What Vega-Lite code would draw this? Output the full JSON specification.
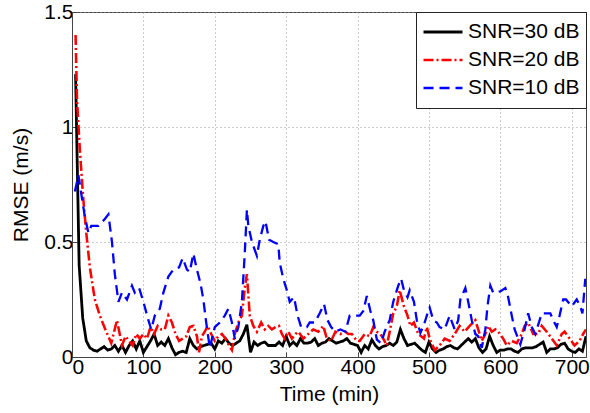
{
  "$schema": "https://vega.github.io/schema/vega-lite/v6.json",
  "autosize": {"type": "none"},
  "width": 514,
  "height": 345,
  "padding": {"left": 72, "top": 12, "right": 4, "bottom": 56},
  "background": "white",
  "config": {
    "font": "Liberation Sans",
    "view": {"stroke": "#444", "strokeWidth": 1},
    "axis": {
      "labelFont": "Liberation Sans", "labelFontSize": 21, "labelColor": "#000",
      "titleFont": "Liberation Sans", "titleFontSize": 21, "titleFontWeight": "normal", "titleColor": "#000",
      "domainColor": "#444", "tickColor": "#444", "tickSize": -5,
      "gridColor": "#999", "gridDash": [1, 3], "gridWidth": 1
    },
    "legend": {
      "labelFont": "Liberation Sans", "labelFontSize": 21, "labelColor": "#000"
    }
  },
  "data": {"values": [
    {"t":5,"v":1.23,"s":"SNR=30 dB"},{"t":10,"v":0.40,"s":"SNR=30 dB"},{"t":15,"v":0.17,"s":"SNR=30 dB"},{"t":20,"v":0.07,"s":"SNR=30 dB"},{"t":25,"v":0.04,"s":"SNR=30 dB"},{"t":30,"v":0.03,"s":"SNR=30 dB"},{"t":35,"v":0.025,"s":"SNR=30 dB"},{"t":40,"v":0.035,"s":"SNR=30 dB"},{"t":45,"v":0.045,"s":"SNR=30 dB"},{"t":50,"v":0.03,"s":"SNR=30 dB"},{"t":55,"v":0.035,"s":"SNR=30 dB"},{"t":60,"v":0.05,"s":"SNR=30 dB"},{"t":65,"v":0.025,"s":"SNR=30 dB"},{"t":70,"v":0.05,"s":"SNR=30 dB"},{"t":75,"v":0.02,"s":"SNR=30 dB"},{"t":80,"v":0.05,"s":"SNR=30 dB"},{"t":85,"v":0.07,"s":"SNR=30 dB"},{"t":90,"v":0.035,"s":"SNR=30 dB"},{"t":95,"v":0.07,"s":"SNR=30 dB"},{"t":100,"v":0.02,"s":"SNR=30 dB"},{"t":105,"v":0.045,"s":"SNR=30 dB"},{"t":110,"v":0.07,"s":"SNR=30 dB"},{"t":115,"v":0.1,"s":"SNR=30 dB"},{"t":120,"v":0.05,"s":"SNR=30 dB"},{"t":125,"v":0.065,"s":"SNR=30 dB"},{"t":130,"v":0.05,"s":"SNR=30 dB"},{"t":135,"v":0.08,"s":"SNR=30 dB"},{"t":140,"v":0.04,"s":"SNR=30 dB"},{"t":145,"v":0.01,"s":"SNR=30 dB"},{"t":150,"v":0.02,"s":"SNR=30 dB"},{"t":155,"v":0.025,"s":"SNR=30 dB"},{"t":160,"v":0.02,"s":"SNR=30 dB"},{"t":165,"v":0.08,"s":"SNR=30 dB"},{"t":170,"v":0.05,"s":"SNR=30 dB"},{"t":175,"v":0.035,"s":"SNR=30 dB"},{"t":180,"v":0.045,"s":"SNR=30 dB"},{"t":185,"v":0.05,"s":"SNR=30 dB"},{"t":190,"v":0.055,"s":"SNR=30 dB"},{"t":195,"v":0.06,"s":"SNR=30 dB"},{"t":200,"v":0.035,"s":"SNR=30 dB"},{"t":205,"v":0.07,"s":"SNR=30 dB"},{"t":210,"v":0.06,"s":"SNR=30 dB"},{"t":215,"v":0.08,"s":"SNR=30 dB"},{"t":220,"v":0.06,"s":"SNR=30 dB"},{"t":225,"v":0.05,"s":"SNR=30 dB"},{"t":230,"v":0.06,"s":"SNR=30 dB"},{"t":235,"v":0.07,"s":"SNR=30 dB"},{"t":240,"v":0.1,"s":"SNR=30 dB"},{"t":245,"v":0.14,"s":"SNR=30 dB"},{"t":250,"v":0.02,"s":"SNR=30 dB"},{"t":255,"v":0.065,"s":"SNR=30 dB"},{"t":260,"v":0.05,"s":"SNR=30 dB"},{"t":265,"v":0.06,"s":"SNR=30 dB"},{"t":270,"v":0.065,"s":"SNR=30 dB"},{"t":275,"v":0.05,"s":"SNR=30 dB"},{"t":280,"v":0.05,"s":"SNR=30 dB"},{"t":285,"v":0.05,"s":"SNR=30 dB"},{"t":290,"v":0.065,"s":"SNR=30 dB"},{"t":295,"v":0.05,"s":"SNR=30 dB"},{"t":300,"v":0.09,"s":"SNR=30 dB"},{"t":305,"v":0.05,"s":"SNR=30 dB"},{"t":310,"v":0.065,"s":"SNR=30 dB"},{"t":315,"v":0.05,"s":"SNR=30 dB"},{"t":320,"v":0.08,"s":"SNR=30 dB"},{"t":325,"v":0.06,"s":"SNR=30 dB"},{"t":330,"v":0.06,"s":"SNR=30 dB"},{"t":335,"v":0.065,"s":"SNR=30 dB"},{"t":340,"v":0.08,"s":"SNR=30 dB"},{"t":345,"v":0.05,"s":"SNR=30 dB"},{"t":350,"v":0.06,"s":"SNR=30 dB"},{"t":355,"v":0.065,"s":"SNR=30 dB"},{"t":360,"v":0.08,"s":"SNR=30 dB"},{"t":365,"v":0.07,"s":"SNR=30 dB"},{"t":370,"v":0.06,"s":"SNR=30 dB"},{"t":375,"v":0.065,"s":"SNR=30 dB"},{"t":380,"v":0.07,"s":"SNR=30 dB"},{"t":385,"v":0.08,"s":"SNR=30 dB"},{"t":390,"v":0.06,"s":"SNR=30 dB"},{"t":395,"v":0.055,"s":"SNR=30 dB"},{"t":400,"v":0.05,"s":"SNR=30 dB"},{"t":405,"v":0.02,"s":"SNR=30 dB"},{"t":410,"v":0.05,"s":"SNR=30 dB"},{"t":415,"v":0.035,"s":"SNR=30 dB"},{"t":420,"v":0.075,"s":"SNR=30 dB"},{"t":425,"v":0.05,"s":"SNR=30 dB"},{"t":430,"v":0.035,"s":"SNR=30 dB"},{"t":435,"v":0.045,"s":"SNR=30 dB"},{"t":440,"v":0.05,"s":"SNR=30 dB"},{"t":445,"v":0.06,"s":"SNR=30 dB"},{"t":450,"v":0.05,"s":"SNR=30 dB"},{"t":455,"v":0.065,"s":"SNR=30 dB"},{"t":460,"v":0.12,"s":"SNR=30 dB"},{"t":465,"v":0.08,"s":"SNR=30 dB"},{"t":470,"v":0.05,"s":"SNR=30 dB"},{"t":475,"v":0.055,"s":"SNR=30 dB"},{"t":480,"v":0.06,"s":"SNR=30 dB"},{"t":485,"v":0.045,"s":"SNR=30 dB"},{"t":490,"v":0.03,"s":"SNR=30 dB"},{"t":495,"v":0.02,"s":"SNR=30 dB"},{"t":500,"v":0.065,"s":"SNR=30 dB"},{"t":505,"v":0.035,"s":"SNR=30 dB"},{"t":510,"v":0.02,"s":"SNR=30 dB"},{"t":515,"v":0.03,"s":"SNR=30 dB"},{"t":520,"v":0.035,"s":"SNR=30 dB"},{"t":525,"v":0.045,"s":"SNR=30 dB"},{"t":530,"v":0.05,"s":"SNR=30 dB"},{"t":535,"v":0.04,"s":"SNR=30 dB"},{"t":540,"v":0.035,"s":"SNR=30 dB"},{"t":545,"v":0.05,"s":"SNR=30 dB"},{"t":550,"v":0.065,"s":"SNR=30 dB"},{"t":555,"v":0.08,"s":"SNR=30 dB"},{"t":560,"v":0.065,"s":"SNR=30 dB"},{"t":565,"v":0.08,"s":"SNR=30 dB"},{"t":570,"v":0.04,"s":"SNR=30 dB"},{"t":575,"v":0.02,"s":"SNR=30 dB"},{"t":580,"v":0.035,"s":"SNR=30 dB"},{"t":585,"v":0.09,"s":"SNR=30 dB"},{"t":590,"v":0.05,"s":"SNR=30 dB"},{"t":595,"v":0.02,"s":"SNR=30 dB"},{"t":600,"v":0.03,"s":"SNR=30 dB"},{"t":605,"v":0.03,"s":"SNR=30 dB"},{"t":610,"v":0.035,"s":"SNR=30 dB"},{"t":615,"v":0.035,"s":"SNR=30 dB"},{"t":620,"v":0.025,"s":"SNR=30 dB"},{"t":625,"v":0.02,"s":"SNR=30 dB"},{"t":630,"v":0.035,"s":"SNR=30 dB"},{"t":635,"v":0.04,"s":"SNR=30 dB"},{"t":640,"v":0.04,"s":"SNR=30 dB"},{"t":645,"v":0.04,"s":"SNR=30 dB"},{"t":650,"v":0.045,"s":"SNR=30 dB"},{"t":655,"v":0.055,"s":"SNR=30 dB"},{"t":660,"v":0.065,"s":"SNR=30 dB"},{"t":665,"v":0.02,"s":"SNR=30 dB"},{"t":670,"v":0.035,"s":"SNR=30 dB"},{"t":675,"v":0.035,"s":"SNR=30 dB"},{"t":680,"v":0.04,"s":"SNR=30 dB"},{"t":685,"v":0.055,"s":"SNR=30 dB"},{"t":690,"v":0.06,"s":"SNR=30 dB"},{"t":695,"v":0.035,"s":"SNR=30 dB"},{"t":700,"v":0.025,"s":"SNR=30 dB"},{"t":705,"v":0.02,"s":"SNR=30 dB"},{"t":710,"v":0.035,"s":"SNR=30 dB"},{"t":715,"v":0.025,"s":"SNR=30 dB"},{"t":720,"v":0.09,"s":"SNR=30 dB"},

    {"t":5,"v":1.40,"s":"SNR=20 dB"},{"t":7,"v":1.12,"s":"SNR=20 dB"},{"t":11,"v":0.90,"s":"SNR=20 dB"},{"t":16,"v":0.68,"s":"SNR=20 dB"},{"t":20,"v":0.54,"s":"SNR=20 dB"},{"t":25,"v":0.39,"s":"SNR=20 dB"},{"t":32,"v":0.25,"s":"SNR=20 dB"},{"t":39,"v":0.18,"s":"SNR=20 dB"},{"t":48,"v":0.11,"s":"SNR=20 dB"},{"t":55,"v":0.06,"s":"SNR=20 dB"},{"t":63,"v":0.16,"s":"SNR=20 dB"},{"t":70,"v":0.05,"s":"SNR=20 dB"},{"t":75,"v":0.09,"s":"SNR=20 dB"},{"t":80,"v":0.07,"s":"SNR=20 dB"},{"t":85,"v":0.05,"s":"SNR=20 dB"},{"t":90,"v":0.1,"s":"SNR=20 dB"},{"t":95,"v":0.08,"s":"SNR=20 dB"},{"t":100,"v":0.1,"s":"SNR=20 dB"},{"t":105,"v":0.08,"s":"SNR=20 dB"},{"t":110,"v":0.13,"s":"SNR=20 dB"},{"t":115,"v":0.1,"s":"SNR=20 dB"},{"t":120,"v":0.135,"s":"SNR=20 dB"},{"t":125,"v":0.12,"s":"SNR=20 dB"},{"t":130,"v":0.12,"s":"SNR=20 dB"},{"t":135,"v":0.18,"s":"SNR=20 dB"},{"t":140,"v":0.15,"s":"SNR=20 dB"},{"t":145,"v":0.1,"s":"SNR=20 dB"},{"t":150,"v":0.07,"s":"SNR=20 dB"},{"t":155,"v":0.08,"s":"SNR=20 dB"},{"t":160,"v":0.09,"s":"SNR=20 dB"},{"t":165,"v":0.13,"s":"SNR=20 dB"},{"t":170,"v":0.135,"s":"SNR=20 dB"},{"t":175,"v":0.09,"s":"SNR=20 dB"},{"t":178,"v":0.02,"s":"SNR=20 dB"},{"t":182,"v":0.09,"s":"SNR=20 dB"},{"t":186,"v":0.11,"s":"SNR=20 dB"},{"t":190,"v":0.135,"s":"SNR=20 dB"},{"t":195,"v":0.1,"s":"SNR=20 dB"},{"t":200,"v":0.07,"s":"SNR=20 dB"},{"t":205,"v":0.09,"s":"SNR=20 dB"},{"t":210,"v":0.1,"s":"SNR=20 dB"},{"t":215,"v":0.08,"s":"SNR=20 dB"},{"t":220,"v":0.05,"s":"SNR=20 dB"},{"t":224,"v":0.03,"s":"SNR=20 dB"},{"t":228,"v":0.1,"s":"SNR=20 dB"},{"t":233,"v":0.15,"s":"SNR=20 dB"},{"t":238,"v":0.18,"s":"SNR=20 dB"},{"t":242,"v":0.3,"s":"SNR=20 dB"},{"t":245,"v":0.36,"s":"SNR=20 dB"},{"t":249,"v":0.18,"s":"SNR=20 dB"},{"t":254,"v":0.135,"s":"SNR=20 dB"},{"t":259,"v":0.11,"s":"SNR=20 dB"},{"t":265,"v":0.15,"s":"SNR=20 dB"},{"t":270,"v":0.12,"s":"SNR=20 dB"},{"t":275,"v":0.135,"s":"SNR=20 dB"},{"t":280,"v":0.12,"s":"SNR=20 dB"},{"t":285,"v":0.13,"s":"SNR=20 dB"},{"t":290,"v":0.135,"s":"SNR=20 dB"},{"t":294,"v":0.1,"s":"SNR=20 dB"},{"t":298,"v":0.08,"s":"SNR=20 dB"},{"t":303,"v":0.11,"s":"SNR=20 dB"},{"t":308,"v":0.08,"s":"SNR=20 dB"},{"t":313,"v":0.1,"s":"SNR=20 dB"},{"t":317,"v":0.11,"s":"SNR=20 dB"},{"t":324,"v":0.08,"s":"SNR=20 dB"},{"t":331,"v":0.1,"s":"SNR=20 dB"},{"t":338,"v":0.12,"s":"SNR=20 dB"},{"t":345,"v":0.11,"s":"SNR=20 dB"},{"t":352,"v":0.135,"s":"SNR=20 dB"},{"t":357,"v":0.08,"s":"SNR=20 dB"},{"t":363,"v":0.07,"s":"SNR=20 dB"},{"t":369,"v":0.11,"s":"SNR=20 dB"},{"t":376,"v":0.1,"s":"SNR=20 dB"},{"t":383,"v":0.11,"s":"SNR=20 dB"},{"t":387,"v":0.1,"s":"SNR=20 dB"},{"t":392,"v":0.1,"s":"SNR=20 dB"},{"t":399,"v":0.07,"s":"SNR=20 dB"},{"t":403,"v":0.07,"s":"SNR=20 dB"},{"t":410,"v":0.1,"s":"SNR=20 dB"},{"t":417,"v":0.09,"s":"SNR=20 dB"},{"t":422,"v":0.13,"s":"SNR=20 dB"},{"t":427,"v":0.11,"s":"SNR=20 dB"},{"t":432,"v":0.1,"s":"SNR=20 dB"},{"t":436,"v":0.08,"s":"SNR=20 dB"},{"t":441,"v":0.05,"s":"SNR=20 dB"},{"t":445,"v":0.11,"s":"SNR=20 dB"},{"t":450,"v":0.19,"s":"SNR=20 dB"},{"t":455,"v":0.22,"s":"SNR=20 dB"},{"t":459,"v":0.29,"s":"SNR=20 dB"},{"t":465,"v":0.22,"s":"SNR=20 dB"},{"t":470,"v":0.18,"s":"SNR=20 dB"},{"t":474,"v":0.135,"s":"SNR=20 dB"},{"t":479,"v":0.15,"s":"SNR=20 dB"},{"t":485,"v":0.1,"s":"SNR=20 dB"},{"t":493,"v":0.08,"s":"SNR=20 dB"},{"t":497,"v":0.13,"s":"SNR=20 dB"},{"t":501,"v":0.08,"s":"SNR=20 dB"},{"t":508,"v":0.03,"s":"SNR=20 dB"},{"t":515,"v":0.05,"s":"SNR=20 dB"},{"t":522,"v":0.08,"s":"SNR=20 dB"},{"t":529,"v":0.07,"s":"SNR=20 dB"},{"t":536,"v":0.1,"s":"SNR=20 dB"},{"t":543,"v":0.135,"s":"SNR=20 dB"},{"t":550,"v":0.11,"s":"SNR=20 dB"},{"t":557,"v":0.135,"s":"SNR=20 dB"},{"t":565,"v":0.16,"s":"SNR=20 dB"},{"t":569,"v":0.12,"s":"SNR=20 dB"},{"t":574,"v":0.07,"s":"SNR=20 dB"},{"t":579,"v":0.1,"s":"SNR=20 dB"},{"t":583,"v":0.135,"s":"SNR=20 dB"},{"t":588,"v":0.11,"s":"SNR=20 dB"},{"t":593,"v":0.12,"s":"SNR=20 dB"},{"t":597,"v":0.11,"s":"SNR=20 dB"},{"t":604,"v":0.08,"s":"SNR=20 dB"},{"t":609,"v":0.05,"s":"SNR=20 dB"},{"t":616,"v":0.07,"s":"SNR=20 dB"},{"t":623,"v":0.06,"s":"SNR=20 dB"},{"t":630,"v":0.1,"s":"SNR=20 dB"},{"t":634,"v":0.135,"s":"SNR=20 dB"},{"t":639,"v":0.15,"s":"SNR=20 dB"},{"t":646,"v":0.1,"s":"SNR=20 dB"},{"t":653,"v":0.1,"s":"SNR=20 dB"},{"t":658,"v":0.135,"s":"SNR=20 dB"},{"t":665,"v":0.11,"s":"SNR=20 dB"},{"t":672,"v":0.08,"s":"SNR=20 dB"},{"t":679,"v":0.05,"s":"SNR=20 dB"},{"t":686,"v":0.1,"s":"SNR=20 dB"},{"t":690,"v":0.11,"s":"SNR=20 dB"},{"t":697,"v":0.08,"s":"SNR=20 dB"},{"t":704,"v":0.05,"s":"SNR=20 dB"},{"t":711,"v":0.07,"s":"SNR=20 dB"},{"t":716,"v":0.1,"s":"SNR=20 dB"},{"t":720,"v":0.12,"s":"SNR=20 dB"},

    {"t":4,"v":0.72,"s":"SNR=10 dB"},{"t":9,"v":0.79,"s":"SNR=10 dB"},{"t":13,"v":0.71,"s":"SNR=10 dB"},{"t":18,"v":0.61,"s":"SNR=10 dB"},{"t":23,"v":0.54,"s":"SNR=10 dB"},{"t":27,"v":0.57,"s":"SNR=10 dB"},{"t":37,"v":0.57,"s":"SNR=10 dB"},{"t":46,"v":0.6,"s":"SNR=10 dB"},{"t":51,"v":0.62,"s":"SNR=10 dB"},{"t":56,"v":0.5,"s":"SNR=10 dB"},{"t":60,"v":0.36,"s":"SNR=10 dB"},{"t":65,"v":0.24,"s":"SNR=10 dB"},{"t":70,"v":0.28,"s":"SNR=10 dB"},{"t":77,"v":0.25,"s":"SNR=10 dB"},{"t":84,"v":0.31,"s":"SNR=10 dB"},{"t":88,"v":0.28,"s":"SNR=10 dB"},{"t":94,"v":0.30,"s":"SNR=10 dB"},{"t":100,"v":0.24,"s":"SNR=10 dB"},{"t":107,"v":0.16,"s":"SNR=10 dB"},{"t":111,"v":0.12,"s":"SNR=10 dB"},{"t":116,"v":0.18,"s":"SNR=10 dB"},{"t":123,"v":0.21,"s":"SNR=10 dB"},{"t":128,"v":0.28,"s":"SNR=10 dB"},{"t":135,"v":0.35,"s":"SNR=10 dB"},{"t":142,"v":0.38,"s":"SNR=10 dB"},{"t":150,"v":0.39,"s":"SNR=10 dB"},{"t":155,"v":0.43,"s":"SNR=10 dB"},{"t":161,"v":0.38,"s":"SNR=10 dB"},{"t":165,"v":0.37,"s":"SNR=10 dB"},{"t":170,"v":0.45,"s":"SNR=10 dB"},{"t":175,"v":0.38,"s":"SNR=10 dB"},{"t":180,"v":0.32,"s":"SNR=10 dB"},{"t":184,"v":0.25,"s":"SNR=10 dB"},{"t":188,"v":0.15,"s":"SNR=10 dB"},{"t":193,"v":0.04,"s":"SNR=10 dB"},{"t":200,"v":0.13,"s":"SNR=10 dB"},{"t":207,"v":0.15,"s":"SNR=10 dB"},{"t":214,"v":0.18,"s":"SNR=10 dB"},{"t":219,"v":0.21,"s":"SNR=10 dB"},{"t":224,"v":0.15,"s":"SNR=10 dB"},{"t":228,"v":0.08,"s":"SNR=10 dB"},{"t":233,"v":0.13,"s":"SNR=10 dB"},{"t":238,"v":0.24,"s":"SNR=10 dB"},{"t":242,"v":0.45,"s":"SNR=10 dB"},{"t":245,"v":0.64,"s":"SNR=10 dB"},{"t":247,"v":0.57,"s":"SNR=10 dB"},{"t":252,"v":0.5,"s":"SNR=10 dB"},{"t":259,"v":0.44,"s":"SNR=10 dB"},{"t":263,"v":0.51,"s":"SNR=10 dB"},{"t":268,"v":0.57,"s":"SNR=10 dB"},{"t":271,"v":0.59,"s":"SNR=10 dB"},{"t":276,"v":0.51,"s":"SNR=10 dB"},{"t":282,"v":0.5,"s":"SNR=10 dB"},{"t":289,"v":0.49,"s":"SNR=10 dB"},{"t":291,"v":0.41,"s":"SNR=10 dB"},{"t":296,"v":0.34,"s":"SNR=10 dB"},{"t":301,"v":0.29,"s":"SNR=10 dB"},{"t":305,"v":0.24,"s":"SNR=10 dB"},{"t":311,"v":0.26,"s":"SNR=10 dB"},{"t":316,"v":0.18,"s":"SNR=10 dB"},{"t":321,"v":0.13,"s":"SNR=10 dB"},{"t":329,"v":0.13,"s":"SNR=10 dB"},{"t":333,"v":0.15,"s":"SNR=10 dB"},{"t":340,"v":0.15,"s":"SNR=10 dB"},{"t":347,"v":0.19,"s":"SNR=10 dB"},{"t":353,"v":0.23,"s":"SNR=10 dB"},{"t":358,"v":0.16,"s":"SNR=10 dB"},{"t":363,"v":0.13,"s":"SNR=10 dB"},{"t":369,"v":0.11,"s":"SNR=10 dB"},{"t":376,"v":0.12,"s":"SNR=10 dB"},{"t":383,"v":0.11,"s":"SNR=10 dB"},{"t":389,"v":0.18,"s":"SNR=10 dB"},{"t":396,"v":0.18,"s":"SNR=10 dB"},{"t":403,"v":0.18,"s":"SNR=10 dB"},{"t":408,"v":0.2,"s":"SNR=10 dB"},{"t":413,"v":0.265,"s":"SNR=10 dB"},{"t":418,"v":0.2,"s":"SNR=10 dB"},{"t":422,"v":0.16,"s":"SNR=10 dB"},{"t":427,"v":0.076,"s":"SNR=10 dB"},{"t":433,"v":0.06,"s":"SNR=10 dB"},{"t":438,"v":0.11,"s":"SNR=10 dB"},{"t":445,"v":0.16,"s":"SNR=10 dB"},{"t":450,"v":0.24,"s":"SNR=10 dB"},{"t":457,"v":0.31,"s":"SNR=10 dB"},{"t":461,"v":0.34,"s":"SNR=10 dB"},{"t":465,"v":0.29,"s":"SNR=10 dB"},{"t":470,"v":0.26,"s":"SNR=10 dB"},{"t":473,"v":0.29,"s":"SNR=10 dB"},{"t":479,"v":0.24,"s":"SNR=10 dB"},{"t":483,"v":0.16,"s":"SNR=10 dB"},{"t":488,"v":0.105,"s":"SNR=10 dB"},{"t":493,"v":0.14,"s":"SNR=10 dB"},{"t":497,"v":0.18,"s":"SNR=10 dB"},{"t":501,"v":0.215,"s":"SNR=10 dB"},{"t":506,"v":0.16,"s":"SNR=10 dB"},{"t":511,"v":0.15,"s":"SNR=10 dB"},{"t":515,"v":0.13,"s":"SNR=10 dB"},{"t":522,"v":0.12,"s":"SNR=10 dB"},{"t":529,"v":0.18,"s":"SNR=10 dB"},{"t":536,"v":0.12,"s":"SNR=10 dB"},{"t":541,"v":0.16,"s":"SNR=10 dB"},{"t":544,"v":0.25,"s":"SNR=10 dB"},{"t":551,"v":0.30,"s":"SNR=10 dB"},{"t":555,"v":0.24,"s":"SNR=10 dB"},{"t":560,"v":0.16,"s":"SNR=10 dB"},{"t":565,"v":0.1,"s":"SNR=10 dB"},{"t":569,"v":0.09,"s":"SNR=10 dB"},{"t":574,"v":0.04,"s":"SNR=10 dB"},{"t":579,"v":0.12,"s":"SNR=10 dB"},{"t":582,"v":0.22,"s":"SNR=10 dB"},{"t":586,"v":0.31,"s":"SNR=10 dB"},{"t":590,"v":0.28,"s":"SNR=10 dB"},{"t":600,"v":0.285,"s":"SNR=10 dB"},{"t":607,"v":0.30,"s":"SNR=10 dB"},{"t":611,"v":0.26,"s":"SNR=10 dB"},{"t":616,"v":0.18,"s":"SNR=10 dB"},{"t":620,"v":0.12,"s":"SNR=10 dB"},{"t":628,"v":0.055,"s":"SNR=10 dB"},{"t":634,"v":0.12,"s":"SNR=10 dB"},{"t":639,"v":0.19,"s":"SNR=10 dB"},{"t":644,"v":0.13,"s":"SNR=10 dB"},{"t":649,"v":0.1,"s":"SNR=10 dB"},{"t":653,"v":0.14,"s":"SNR=10 dB"},{"t":658,"v":0.19,"s":"SNR=10 dB"},{"t":662,"v":0.19,"s":"SNR=10 dB"},{"t":670,"v":0.19,"s":"SNR=10 dB"},{"t":674,"v":0.16,"s":"SNR=10 dB"},{"t":679,"v":0.13,"s":"SNR=10 dB"},{"t":683,"v":0.18,"s":"SNR=10 dB"},{"t":688,"v":0.25,"s":"SNR=10 dB"},{"t":692,"v":0.25,"s":"SNR=10 dB"},{"t":700,"v":0.22,"s":"SNR=10 dB"},{"t":707,"v":0.25,"s":"SNR=10 dB"},{"t":712,"v":0.22,"s":"SNR=10 dB"},{"t":715,"v":0.19,"s":"SNR=10 dB"},{"t":719,"v":0.34,"s":"SNR=10 dB"}
  ]},
  "mark": {"type": "line", "clip": true},
  "encoding": {
    "x": {
      "field": "t", "type": "quantitative",
      "scale": {"domain": [0, 720], "nice": false, "zero": false},
      "axis": {"title": "Time (min)", "values": [0,100,200,300,400,500,600,700], "grid": true, "labelPadding": 4, "titlePadding": 6}
    },
    "y": {
      "field": "v", "type": "quantitative",
      "scale": {"domain": [0, 1.5], "nice": false},
      "axis": {"title": "RMSE (m/s)", "values": [0, 0.5, 1, 1.5], "format": "~g", "grid": true, "labelPadding": 4, "titlePadding": 12}
    },
    "color": {
      "field": "s", "type": "nominal",
      "scale": {"domain": ["SNR=30 dB", "SNR=20 dB", "SNR=10 dB"], "range": ["#000000", "#ff0000", "#0000ff"]},
      "legend": {
        "title": null, "orient": "top-right", "offset": 0,
        "fillColor": "white", "strokeColor": "#222", "padding": 6,
        "symbolType": "stroke", "symbolSize": 1521, "symbolStrokeWidth": 2.5,
        "clipHeight": 28, "rowPadding": 0, "labelOffset": 4
      }
    },
    "strokeDash": {
      "field": "s", "type": "nominal",
      "scale": {"domain": ["SNR=30 dB", "SNR=20 dB", "SNR=10 dB"], "range": [[1, 0], [10, 3, 2, 3], [10, 6]]}
    },
    "strokeWidth": {
      "field": "s", "type": "nominal",
      "scale": {"domain": ["SNR=30 dB", "SNR=20 dB", "SNR=10 dB"], "range": [2.8, 2.3, 2.8]}
    }
  }
}
